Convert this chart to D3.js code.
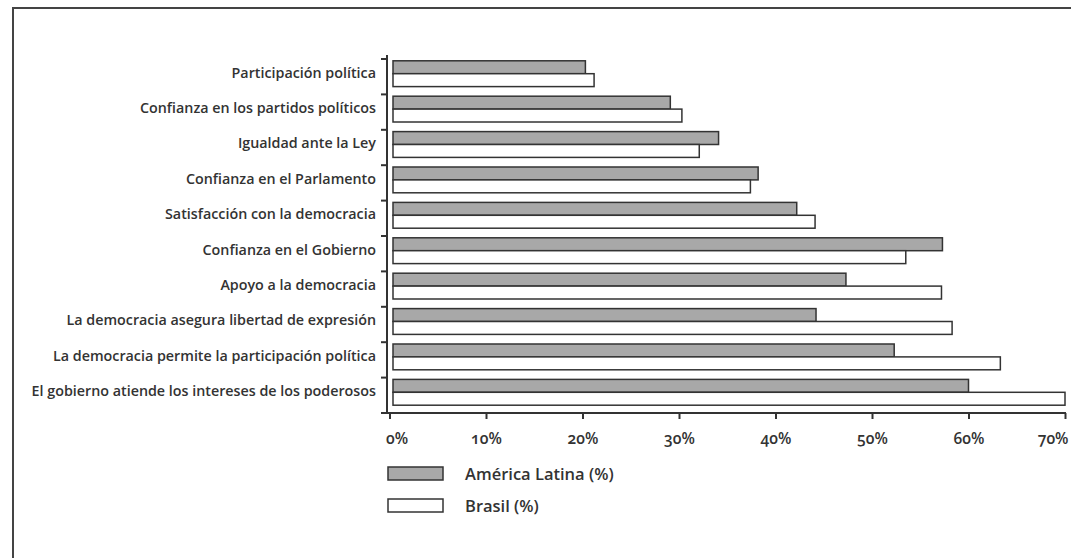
<!DOCTYPE html>
<html>
<head>
<meta charset="utf-8">
<script src="https://cdn.jsdelivr.net/npm/d3@7"></script>
<style>
  body { margin: 0; background: #fff; }
  svg { display: block; }
  text { font-family: "Open Sans", "Noto Sans", sans-serif; fill: #333; }
</style>
</head>
<body>
<div id="chart"></div>
<script>
// Categories (top to bottom) and the two series
const categories = [
    "Participación política",
    "Confianza en los partidos políticos",
    "Igualdad ante la Ley",
    "Confianza en el Parlamento",
    "Satisfacción con la democracia",
    "Confianza en el Gobierno",
    "Apoyo a la democracia",
    "La democracia asegura libertad de expresión",
    "La democracia permite la participación política",
    "El gobierno atiende los intereses de los poderosos"
];
const seriesNames = ["América Latina (%)", "Brasil (%)"];
const americaLatina = [20.3, 29.1, 34.1, 38.2, 42.2, 57.3, 47.3, 44.2, 52.3, 60.0];
const brasil = [21.2, 30.3, 32.1, 37.4, 44.1, 53.5, 57.2, 58.3, 63.3, 70.0];
const xTicks = [0, 10, 20, 30, 40, 50, 60, 70];

const fills = ["#a8a8a8", "#ffffff"];
const W = 1071, H = 558;

const svg = d3.select("#chart")
    .append("svg")
    .attr("width", W)
    .attr("height", H);

// Frame (top and left edges only)
svg.append("path")
    .attr("d", `M13,${H} L13,8 L${W},8`)
    .attr("fill", "none")
    .attr("stroke", "#444")
    .attr("stroke-width", 2);

// Scales
const x = d3.scaleLinear().domain([0, 70]).range([389.5, 1065]);
const y = d3.scaleBand().domain(categories).range([59, 413]);
const inner = d3.scaleBand().domain(seriesNames).range([1.8, 27.6]);

const axisX = 387;   // y axis line
const axisY = 413;   // x axis line
const barStart = 393;

// Bars
const data = categories.map((c, i) => ({ cat: c, values: [americaLatina[i], brasil[i]] }));
const groups = svg.append("g").selectAll("g")
    .data(data)
    .enter()
    .append("g")
    .attr("transform", d => `translate(0,${y(d.cat)})`);

groups.selectAll("rect")
    .data(d => d.values.map((v, k) => ({ v, name: seriesNames[k], k })))
    .enter()
    .append("rect")
    .attr("x", barStart)
    .attr("y", d => inner(d.name))
    .attr("width", d => x(d.v) - barStart)
    .attr("height", inner.bandwidth())
    .attr("fill", d => fills[d.k])
    .attr("stroke", "#333")
    .attr("stroke-width", 1.5);

// Y axis line and ticks at band boundaries
svg.append("line")
    .attr("x1", axisX).attr("x2", axisX)
    .attr("y1", 55).attr("y2", axisY + 1)
    .attr("stroke", "#333").attr("stroke-width", 2);

const boundaries = categories.map(c => y(c));
svg.append("g").selectAll("line")
    .data(boundaries)
    .enter()
    .append("line")
    .attr("x1", axisX - 6).attr("x2", axisX)
    .attr("y1", d => d).attr("y2", d => d)
    .attr("stroke", "#333").attr("stroke-width", 2);

// Category labels
svg.append("g").selectAll("text")
    .data(categories)
    .enter()
    .append("text")
    .attr("x", 376)
    .attr("y", d => y(d) + 13.5)
    .attr("dy", "0.35em")
    .attr("text-anchor", "end")
    .attr("font-size", "14.3px")
    .attr("font-weight", 600)
    .text(d => d);

// X axis
const xAxis = svg.append("g")
    .attr("transform", `translate(0,${axisY})`)
    .call(d3.axisBottom(x)
        .tickValues(xTicks)
        .tickFormat(d => d + "%")
        .tickSize(6)
        .tickSizeOuter(0)
        .tickPadding(14));

xAxis.select(".domain").remove();
xAxis.append("line")
    .attr("x1", axisX - 6).attr("x2", x(70) + 1)
    .attr("y1", 0).attr("y2", 0)
    .attr("stroke", "#333").attr("stroke-width", 2);
xAxis.selectAll(".tick line")
    .attr("stroke", "#333").attr("stroke-width", 2);
xAxis.selectAll(".tick text")
    .attr("fill", "#333")
    .style("font-family", "\"Open Sans\", sans-serif")
    .style("font-size", "15.5px")
    .style("font-weight", 600)
    .style("font-variant-numeric", "oldstyle-nums")
    .attr("text-anchor", (d, i) => i === 0 ? "start" : (i === xTicks.length - 1 ? "end" : "middle"))
    .attr("dx", (d, i) => i === 0 ? -4 : (i === xTicks.length - 1 ? 3 : 0));

// Legend
const legend = svg.append("g").selectAll("g")
    .data(seriesNames)
    .enter()
    .append("g")
    .attr("transform", (d, i) => `translate(388,${467 + i * 32})`);

legend.append("rect")
    .attr("width", 55)
    .attr("height", 13)
    .attr("fill", (d, i) => fills[i])
    .attr("stroke", "#333")
    .attr("stroke-width", 1.5);

legend.append("text")
    .attr("x", 77)
    .attr("y", 7)
    .attr("dy", "0.35em")
    .attr("font-size", "16.5px")
    .attr("font-weight", 600)
    .text(d => d);
</script>
</body>
</html>
